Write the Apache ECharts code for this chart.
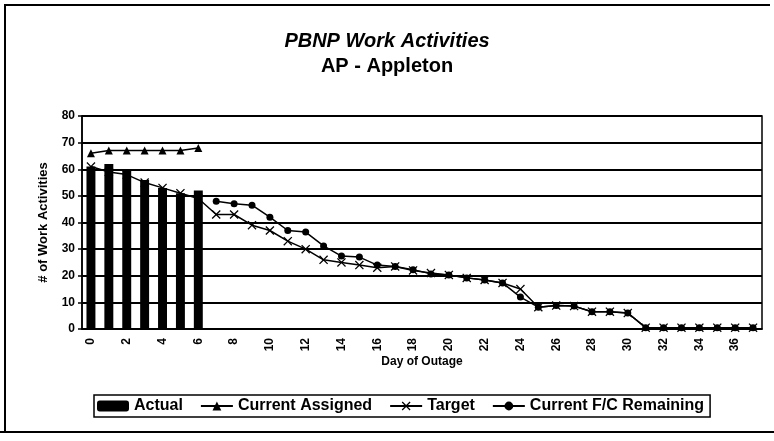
<!DOCTYPE html>
<html><head><meta charset="utf-8">
<script src="https://cdn.jsdelivr.net/npm/echarts@6/dist/echarts.min.js"></script>
<style>html,body{margin:0;padding:0;background:#fff}#c{width:774px;height:441px}</style>
</head><body><div id="c"></div>
<script>
const days = Array.from({length: 38}, (_, i) => String(i));
const actual = [61, 62, 60, 56, 53, 51, 52];
const currentAssigned = [66, 67, 67, 67, 67, 67, 68];
const target = [61, 59, 58, 55, 53, 51, 49, 43, 43, 39, 37, 33, 30, 26, 25, 24, 23, 23.5, 22, 21, 20.3, 19.2, 18.4, 17.3, 15, 8.2, 8.8, 8.6, 6.5, 6.5, 6, 0.5, 0.5, 0.5, 0.5, 0.5, 0.5, 0.5];
const fcRemaining = [null, null, null, null, null, null, null, 48, 47, 46.5, 42, 37, 36.4, 31.2, 27.4, 27, 24, 23.5, 22.3, 20.7, 20.3, 19.2, 18.4, 17.3, 12, 8.2, 8.8, 8.6, 6.5, 6.5, 6, 0.5, 0.5, 0.5, 0.5, 0.5, 0.5, 0.5];

const xSym = 'path://M0,1L1,0L5,4L9,0L10,1L6,5L10,9L9,10L5,6L1,10L0,9L4,5Z';
const chart = echarts.init(document.getElementById('c'));
const bold = {fontFamily: 'Liberation Sans, Arial', fontWeight: 'bold', color: '#000'};
chart.setOption({
  animation: false,
  backgroundColor: '#fff',
  title: {
    text: '{i|PBNP Work Activities}\nAP - Appleton',
    left: 'center', top: 24,
    textStyle: Object.assign({}, bold, {fontSize: 20, lineHeight: 25, rich: {i: Object.assign({}, bold, {fontSize: 20, lineHeight: 25, fontStyle: 'italic'})}})
  },
  grid: {left: 82, right: 12, top: 116, bottom: 112, show: true, borderColor: '#000', borderWidth: 1.5},
  legend: {
    left: 94, top: 395, itemGap: 17, itemWidth: 32, itemHeight: 11,
    borderColor: '#000', borderWidth: 1.5, padding: [3, 6, 3, 3], borderRadius: 0,
    textStyle: Object.assign({}, bold, {fontSize: 16}),
    data: ['Actual', 'Current Assigned', 'Target', 'Current F/C Remaining']
  },
  xAxis: {
    type: 'category', data: days, boundaryGap: true,
    name: 'Day of Outage', nameLocation: 'middle', nameGap: 23,
    nameTextStyle: Object.assign({}, bold, {fontSize: 12}),
    axisLine: {lineStyle: {color: '#000', width: 1.5}},
    axisTick: {alignWithLabel: true, interval: 0, lineStyle: {color: '#000', width: 1.5}, length: 4},
    axisLabel: Object.assign({}, bold, {fontSize: 12, rotate: 90, interval: 1, margin: 9})
  },
  yAxis: {
    type: 'value', min: 0, max: 80, interval: 10,
    name: '# of Work Activities', nameLocation: 'middle', nameGap: 32,
    nameTextStyle: Object.assign({}, bold, {fontSize: 13}),
    axisLine: {show: true, lineStyle: {color: '#000', width: 1.5}},
    axisTick: {show: true, lineStyle: {color: '#000', width: 1.5}, length: 4},
    axisLabel: Object.assign({}, bold, {fontSize: 12, margin: 7}),
    splitLine: {lineStyle: {color: '#000', width: 2}}
  },
  series: [
    {name: 'Actual', type: 'bar', data: actual, barWidth: '50%', itemStyle: {color: '#000'}},
    {name: 'Current Assigned', type: 'line', data: currentAssigned, symbol: 'triangle', symbolSize: 8,
     lineStyle: {color: '#000', width: 1.5}, itemStyle: {color: '#000'}},
    {name: 'Target', type: 'line', data: target, symbol: xSym, symbolSize: 9,
     lineStyle: {color: '#000', width: 1.5}, itemStyle: {color: '#000'}},
    {name: 'Current F/C Remaining', type: 'line', data: fcRemaining, symbol: 'circle', symbolSize: 7,
     lineStyle: {color: '#000', width: 1.5}, itemStyle: {color: '#000'}}
  ],
  graphic: [
    {type: 'polyline', shape: {points: [[5, 432], [5, 5], [770, 5]]}, style: {stroke: '#000', lineWidth: 2, fill: null}},
    {type: 'line', shape: {x1: 0, y1: 432, x2: 774, y2: 432}, style: {stroke: '#000', lineWidth: 2}}
  ]
});
</script></body></html>
